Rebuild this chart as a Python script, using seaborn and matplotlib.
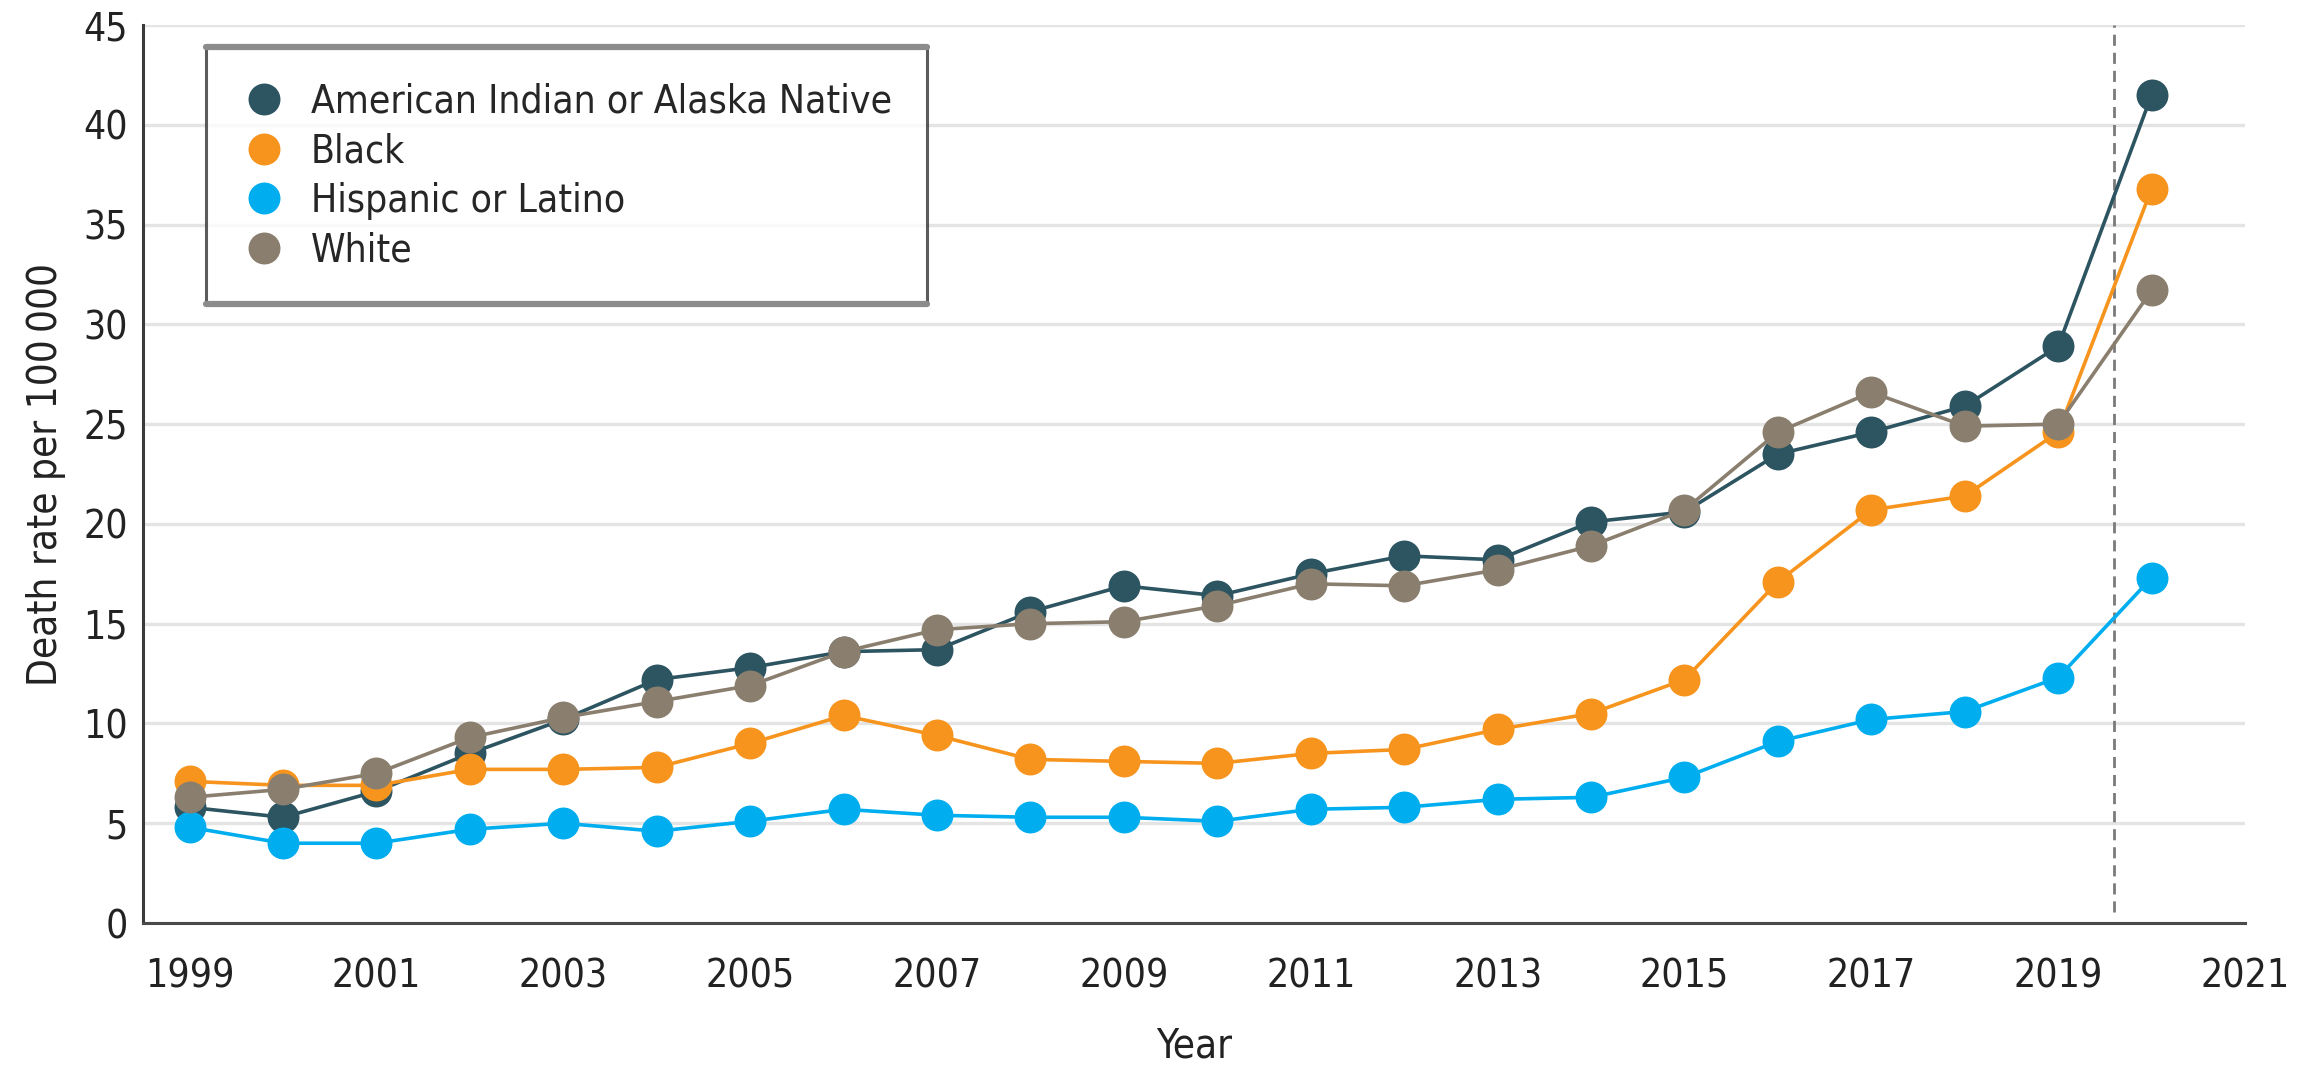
import numpy as np
import pandas as pd
import matplotlib
matplotlib.use("Agg")
import matplotlib.pyplot as plt
from matplotlib.lines import Line2D
import seaborn as sns

# Datos
years = list(range(1999, 2021))
groups = ["American Indian or Alaska Native", "Black", "Hispanic or Latino", "White"]
colors = ["#2d5461", "#f7941e", "#00aeef", "#8a7f6e"]

aian = [5.8, 5.3, 6.6, 8.5, 10.2, 12.2, 12.8, 13.6, 13.7, 15.6, 16.9, 16.4,
        17.5, 18.4, 18.2, 20.1, 20.6, 23.5, 24.6, 25.9, 28.9, 41.5]
black = [7.1, 6.9, 6.9, 7.7, 7.7, 7.8, 9.0, 10.4, 9.4, 8.2, 8.1, 8.0,
         8.5, 8.7, 9.7, 10.5, 12.2, 17.1, 20.7, 21.4, 24.6, 36.8]
hispanic = [4.8, 4.0, 4.0, 4.7, 5.0, 4.6, 5.1, 5.7, 5.4, 5.3, 5.3, 5.1,
            5.7, 5.8, 6.2, 6.3, 7.3, 9.1, 10.2, 10.6, 12.3, 17.3]
white = [6.3, 6.7, 7.5, 9.3, 10.3, 11.1, 11.9, 13.6, 14.7, 15.0, 15.1, 15.9,
         17.0, 16.9, 17.7, 18.9, 20.7, 24.6, 26.6, 24.9, 25.0, 31.7]

x_ticks = list(range(1999, 2022, 2))
y_ticks = list(range(0, 50, 5))

df = pd.DataFrame({
    "Year": years * 4,
    "Rate": aian + black + hispanic + white,
    "Group": sum([[g] * len(years) for g in groups], []),
})

sns.set_style("white")
plt.rcParams["font.family"] = ["DejaVu Sans"]
plt.rcParams["font.stretch"] = "condensed"

fig = plt.figure(figsize=(23.05, 10.65), dpi=100)
ax = fig.add_axes([0.062, 0.1333, 0.912, 0.8432])

# Lineas de cuadricula
ax.yaxis.grid(True, color="#e4e4e4", linewidth=2.4, zorder=0)
ax.set_axisbelow(True)

sns.lineplot(data=df, x="Year", y="Rate", hue="Group", hue_order=groups,
             palette=colors, marker="o", markersize=23, markeredgewidth=0,
             linewidth=2.6, legend=False, ax=ax, zorder=3)

# Linea vertical discontinua
ax.axvline(2019.6, ymin=0.012, ymax=1, color="#7a7a7a", linestyle=(0, (4, 2.5)),
           linewidth=2, zorder=2)

ax.set_xlim(1998.5, 2021)
ax.set_ylim(0, 45)
ax.set_xticks(x_ticks)
ax.set_yticks(y_ticks)
ax.tick_params(axis="both", labelsize=28, colors="#333333", labelcolor="#222222")
ax.tick_params(axis="x", length=10, width=2, pad=15)
ax.tick_params(axis="y", length=5, width=2, pad=6)

for s in ["top", "right"]:
    ax.spines[s].set_visible(False)
ax.spines["left"].set_color("#3a3a3a")
ax.spines["left"].set_linewidth(2.2)
ax.spines["bottom"].set_color("#4a4a4a")
ax.spines["bottom"].set_linewidth(2.2)

ax.set_xlabel("Year", fontsize=29, color="#222222", labelpad=22)
ax.set_ylabel("Death rate per 100\u2009000", fontsize=29, color="#222222", labelpad=12)

# Leyenda solo con marcadores
handles = [Line2D([0], [0], marker="o", linestyle="none", markersize=23,
                  markeredgewidth=0, color=c) for c in colors]
leg = ax.legend(handles, groups, loc="upper left", bbox_to_anchor=(0.03, 0.975),
                borderaxespad=0, fontsize=28, frameon=True, fancybox=False,
                handletextpad=0.6, labelspacing=0.3, borderpad=0.9,
                handlelength=1.2)
leg.get_frame().set_edgecolor("#333333")
leg.get_frame().set_linewidth(2.2)

# Bordes superior e inferior mas gruesos de la leyenda
fig.canvas.draw()
bb = leg.get_frame().get_window_extent().transformed(fig.transFigure.inverted())
for yy in (bb.y0, bb.y1):
    fig.add_artist(Line2D([bb.x0, bb.x1], [yy, yy], color="#8c8c8c",
                          linewidth=4.5, transform=fig.transFigure))

fig.savefig("out.png", dpi=100)
